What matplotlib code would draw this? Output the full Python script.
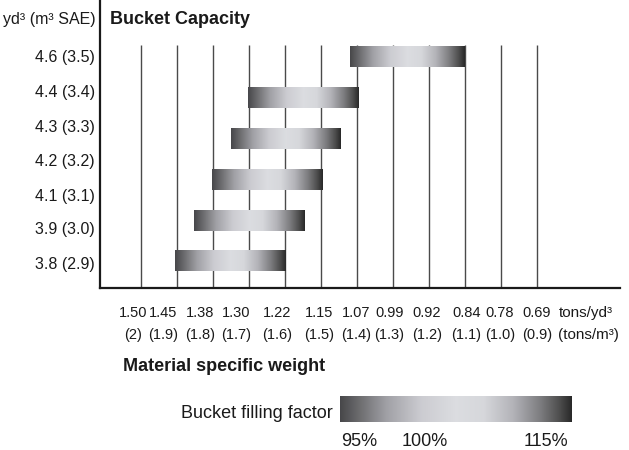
import matplotlib.pyplot as plt
import numpy as np
from matplotlib.colors import LinearSegmentedColormap
from matplotlib.transforms import blended_transform_factory

# bucket capacity row labels (top to bottom)
capacity_labels = ['4.6 (3.5)', '4.4 (3.4)', '4.3 (3.3)', '4.2 (3.2)',
                   '4.1 (3.1)', '3.9 (3.0)', '3.8 (2.9)']

# material weight scale (tons/yd3 and tons/m3)
weight_yd = ['1.50', '1.45', '1.38', '1.30', '1.22', '1.15', '1.07',
             '0.99', '0.92', '0.84', '0.78', '0.69']
weight_m = ['(2)', '(1.9)', '(1.8)', '(1.7)', '(1.6)', '(1.5)', '(1.4)',
            '(1.3)', '(1.2)', '(1.1)', '(1.0)', '(0.9)']

# bar ranges on the weight scale index, bottom row first
bar_start = [0.95, 1.48, 1.99, 2.51, 2.99, 5.81]
bar_end = [4.03, 4.54, 5.06, 5.56, 6.06, 8.99]

fill_labels = ['95%', '100%', '115%']

plt.rcParams['font.family'] = ['Liberation Sans', 'DejaVu Sans']
narrow = ['Liberation Sans Narrow', 'Liberation Sans', 'DejaVu Sans']

W, H = 629, 450
fig = plt.figure(figsize=(W / 100, H / 100), dpi=100)


def fx(px):
    return px / W


def fy(py):
    return 1 - py / H


ax = fig.add_axes([fx(100), fy(288), fx(620) - fx(100), fy(0) - fy(288)])
ax.set_xlim(-1.131, 13.31)
ax.set_ylim(-0.662, 6.397)

for s in ['top', 'right']:
    ax.spines[s].set_visible(False)
for s in ['left', 'bottom']:
    ax.spines[s].set_linewidth(1.6)
    ax.spines[s].set_color('#1a1a1a')
ax.set_xticks([])
ax.set_yticks([])

# vertical grid lines
grid_x = np.arange(len(weight_yd))
ax.vlines(grid_x, -0.662, 5.29, color='#4a4a4a', lw=1.0, zorder=1)

# gradient used for the bars and the legend
stops = [(0.0, (0.28, 0.28, 0.29)), (0.08, (0.42, 0.42, 0.43)),
         (0.2, (0.63, 0.63, 0.65)), (0.35, (0.80, 0.80, 0.82)),
         (0.5, (0.86, 0.865, 0.88)), (0.62, (0.84, 0.845, 0.86)),
         (0.75, (0.70, 0.70, 0.72)), (0.87, (0.48, 0.48, 0.49)),
         (0.95, (0.30, 0.30, 0.30)), (1.0, (0.16, 0.16, 0.16))]
cmap = LinearSegmentedColormap.from_list('bucket', stops)
grad = np.linspace(0, 1, 256).reshape(1, -1)

bar_h = 0.51
for row, (s, e) in enumerate(zip(bar_start, bar_end)):
    ax.imshow(grad, cmap=cmap, extent=(s, e, row - bar_h / 2, row + bar_h / 2),
              aspect='auto', zorder=3, interpolation='bilinear')
ax.set_xlim(-1.131, 13.31)
ax.set_ylim(-0.662, 6.397)

# titles
fig.text(fx(110), fy(24), 'Bucket Capacity', fontsize=13, fontweight='bold',
         color='#1a1a1a', va='baseline', ha='left')
fig.text(fx(96), fy(24), 'yd³ (m³ SAE)', fontsize=11.5, color='#1a1a1a',
         va='baseline', ha='right', family=narrow)

# row labels
label_base = [61.8, 96.8, 131.8, 165.8, 200.8, 234.1, 268.5]
for lab, yb in zip(capacity_labels, label_base):
    fig.text(fx(95), fy(yb), lab, fontsize=11.5, color='#1a1a1a',
             ha='right', va='baseline')

# weight scale labels
tr = blended_transform_factory(ax.transData, fig.transFigure)
label_x = [-0.22, 0.62, 1.65, 2.65, 3.8, 4.95, 5.98, 6.9, 7.95, 9.04, 9.98, 11.0]
for xp, a, b in zip(label_x, weight_yd, weight_m):
    ax.text(xp, fy(316.7), a, transform=tr, ha='center', va='baseline',
            fontsize=10.5, family=narrow, color='#1a1a1a')
    ax.text(xp, fy(339.5), b, transform=tr, ha='center', va='baseline',
            fontsize=10.5, family=narrow, color='#1a1a1a')
ax.text(11.6, fy(316.7), 'tons/yd³', transform=tr, ha='left', va='baseline',
        fontsize=11, family=narrow, color='#1a1a1a')
ax.text(11.6, fy(339.5), '(tons/m³)', transform=tr, ha='left', va='baseline',
        fontsize=11, family=narrow, color='#1a1a1a')

fig.text(fx(123), fy(370.7), 'Material specific weight', fontsize=13,
         fontweight='bold', color='#1a1a1a', va='baseline', ha='left')

# legend gradient
lax = fig.add_axes([fx(340), fy(422), fx(572) - fx(340), fy(396) - fy(422)])
lax.imshow(grad, cmap=cmap, aspect='auto', interpolation='bilinear')
lax.axis('off')

fig.text(fx(333), fy(418.3), 'Bucket filling factor', fontsize=13,
         color='#1a1a1a', ha='right', va='baseline')
fill_x = [341, 425, 568]
fill_ha = ['left', 'center', 'right']
for lab, xp, ha in zip(fill_labels, fill_x, fill_ha):
    fig.text(fx(xp), fy(446.5), lab, fontsize=13, color='#1a1a1a',
             ha=ha, va='baseline')

fig.savefig('out.png', dpi=100)
